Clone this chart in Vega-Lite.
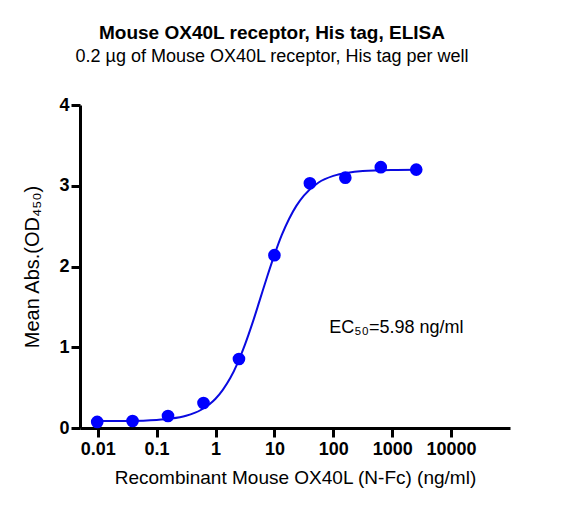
{
  "$schema": "https://vega.github.io/schema/vega-lite/v6.json",
  "width": 430,
  "height": 323,
  "autosize": "none",
  "padding": {"left": 80, "top": 105, "right": 55, "bottom": 79},
  "background": "white",
  "title": {
    "text": "Mouse OX40L receptor, His tag, ELISA",
    "subtitle": "0.2 µg of Mouse OX40L receptor, His tag per well",
    "font": "Liberation Sans",
    "fontSize": 19,
    "fontWeight": "bold",
    "subtitleFont": "Liberation Sans",
    "subtitleFontSize": 18,
    "subtitleColor": "black",
    "subtitlePadding": 5,
    "color": "black",
    "anchor": "middle",
    "dx": -23,
    "offset": 30
  },
  "config": {
    "view": {"stroke": null},
    "axis": {
      "grid": false,
      "domainColor": "black",
      "domainWidth": 3,
      "tickColor": "black",
      "tickWidth": 3,
      "tickSize": 9,
      "labelFont": "Liberation Sans",
      "labelFontWeight": "bold",
      "labelFontSize": 18,
      "labelColor": "black",
      "titleFont": "Liberation Sans",
      "titleFontWeight": "normal",
      "titleColor": "black"
    }
  },
  "datasets": {
    "points": [
      {"conc": 0.0098, "od": 0.075},
      {"conc": 0.039, "od": 0.087},
      {"conc": 0.156, "od": 0.149},
      {"conc": 0.625, "od": 0.31},
      {"conc": 2.5, "od": 0.855},
      {"conc": 10, "od": 2.14},
      {"conc": 40, "od": 3.03},
      {"conc": 160, "od": 3.1},
      {"conc": 640, "od": 3.23},
      {"conc": 2560, "od": 3.2}
    ],
    "curve": [
      {"conc": 0.0098, "od": 0.086},
      {"conc": 0.0316, "od": 0.088},
      {"conc": 0.1, "od": 0.1},
      {"conc": 0.178, "od": 0.117},
      {"conc": 0.316, "od": 0.152},
      {"conc": 0.562, "od": 0.223},
      {"conc": 1.0, "od": 0.362},
      {"conc": 1.33, "od": 0.473},
      {"conc": 1.78, "od": 0.618},
      {"conc": 2.37, "od": 0.804},
      {"conc": 3.16, "od": 1.032},
      {"conc": 4.22, "od": 1.295},
      {"conc": 5.62, "od": 1.58},
      {"conc": 7.5, "od": 1.87},
      {"conc": 10, "od": 2.144},
      {"conc": 13.3, "od": 2.388},
      {"conc": 17.8, "od": 2.592},
      {"conc": 23.7, "od": 2.754},
      {"conc": 31.6, "od": 2.879},
      {"conc": 56.2, "od": 3.04},
      {"conc": 100, "od": 3.122},
      {"conc": 178, "od": 3.162},
      {"conc": 316, "od": 3.182},
      {"conc": 1000, "od": 3.196},
      {"conc": 2560, "od": 3.199}
    ],
    "note": [
      {"conc": 85, "od": 1.18, "label": "EC₅₀=5.98 ng/ml"}
    ]
  },
  "encoding": {
    "x": {
      "field": "conc",
      "type": "quantitative",
      "scale": {"type": "log", "domain": [0.005, 100000], "nice": false},
      "axis": {
        "values": [0.01, 0.1, 1, 10, 100, 1000, 10000],
        "format": "~g",
        "labelPadding": 3,
        "title": "Recombinant Mouse OX40L (N-Fc) (ng/ml)",
        "titleFontSize": 19,
        "titlePadding": 10
      }
    },
    "y": {
      "field": "od",
      "type": "quantitative",
      "scale": {"domain": [0, 4], "nice": false},
      "axis": {
        "values": [0, 1, 2, 3, 4],
        "labelPadding": 2,
        "title": "Mean Abs.(OD₄₅₀)",
        "titleFontSize": 20,
        "titlePadding": 16
      }
    }
  },
  "layer": [
    {
      "data": {"name": "curve"},
      "mark": {"type": "line", "color": "#0a0ae0", "strokeWidth": 2, "interpolate": "monotone"}
    },
    {
      "data": {"name": "points"},
      "mark": {"type": "point", "shape": "circle", "filled": true, "opacity": 1, "color": "#0000ff", "size": 160}
    },
    {
      "data": {"name": "note"},
      "mark": {"type": "text", "align": "left", "baseline": "alphabetic", "font": "Liberation Sans", "fontSize": 18, "color": "black"},
      "encoding": {"text": {"field": "label"}}
    }
  ]
}
